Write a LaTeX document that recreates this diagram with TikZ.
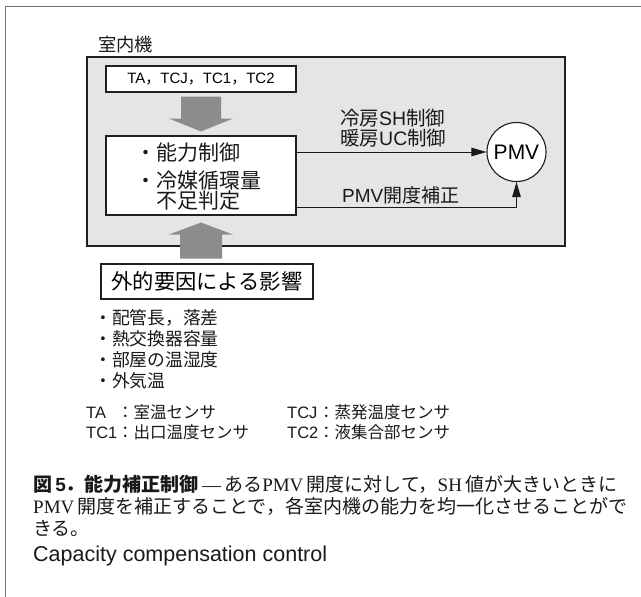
\documentclass[tikz,border=0pt]{standalone}
\usepackage{fontspec}
\setmainfont{Liberation Sans}
\newfontfamily\jp{Noto Sans CJK JP}
\newfontfamily\ser{Liberation Serif}
\usetikzlibrary{arrows.meta,calc}
\newcommand\J[1]{{\jp #1}}
\newcommand\fs[2]{\fontsize{#1pt}{#2pt}\selectfont}
\begin{document}
\begin{tikzpicture}[x=1pt,y=-1pt,
  frameline/.style={draw=black!55, line width=0.9pt},
  unitbox/.style={draw=black!88, fill=black!10, line width=1.4pt, inner sep=0pt},
  wbox/.style={draw=black!88, fill=white, line width=1.1pt, inner sep=0pt},
  fatarrow/.style={fill=black!45},
  conn/.style={draw=black!90, line width=1pt, -{Triangle[length=15pt,width=8.5pt]}},
  pmvnode/.style={circle, draw=black!90, fill=white, line width=1.1pt, minimum size=59pt, inner sep=0pt},
  txt/.style={inner sep=0pt, text=black!90}
]
\useasboundingbox (0,0) rectangle (641,597);
% outer frame (top and left only)
\coordinate (fl) at (5,597);
\coordinate (ftl) at (5,6);
\coordinate (ftr) at (641,6);
\draw[frameline] (fl) -- (ftl) -- (ftr);

\node[unitbox, minimum width=478pt, minimum height=189pt] (unit) at (326,151.5) {};
\node[txt, anchor=west, font=\fs{18.3}{21}] (unitlbl) at (98,45) {\J{室内機}};

\node[wbox, minimum width=190pt, minimum height=26pt, font=\fs{15}{18}] (sens) at (201,79) {TA\J{，}TCJ\J{，}TC1\J{，}TC2};
\node[wbox, minimum width=190pt, minimum height=79pt] (ctrl) at (201,175.5) {};
\node[txt, anchor=west, font=\fs{21}{23}] (c1) at (135,153) {\J{・能力制御}};
\node[txt, anchor=west, font=\fs{21}{23}] (c2) at (135,181) {\J{・冷媒循環量}};
\node[txt, anchor=west, font=\fs{21}{23}] (c3) at (156,201) {\J{不足判定}};

\node[pmvnode, font=\fs{21}{24}] (pmv) at (516.5,152) {PMV};
\node[wbox, minimum width=212pt, minimum height=35pt, font=\fs{21.3}{24}] (ext) at (207,281.5) {\J{外的要因による影響}};

% fat arrows
\fill[fatarrow] ($(sens.south)+(-20,4)$) -- ($(sens.south)+(20,4)$) -- ($(sens.south)+(20,26)$) -- ($(sens.south)+(32,26)$) -- ($(ctrl.north)+(0,-4)$) -- ($(sens.south)+(-32,26)$) -- ($(sens.south)+(-20,26)$) -- cycle;
\fill[fatarrow] ($(ctrl.south)+(-21,43)$) -- ($(ctrl.south)+(21,43)$) -- ($(ctrl.south)+(21,19)$) -- ($(ctrl.south)+(32,19)$) -- ($(ctrl.south)+(0,7)$) -- ($(ctrl.south)+(-32,19)$) -- ($(ctrl.south)+(-21,19)$) -- cycle;

% connectors
\draw[conn] (ctrl.east |- pmv.center) -- (pmv);
\draw[conn] ([yshift=-31.5pt]ctrl.east) -| (pmv);

\node[txt, anchor=west, align=left, font=\fs{19.5}{20}] (coolheat) at (340,128) {\J{冷房}SH\J{制御}\\\J{暖房}UC\J{制御}};
\node[txt, anchor=west, font=\fs{19}{21}] (pmvcorr) at (342,195) {PMV\J{開度補正}};

% factors
\node[txt, anchor=west, font=\fs{17.8}{21}] (f1) at (94,318) {\J{・配管長，落差}};
\node[txt, anchor=west, font=\fs{17.8}{21}] (f2) at (94,339) {\J{・熱交換器容量}};
\node[txt, anchor=west, font=\fs{17.8}{21}] (f3) at (94,360) {\J{・部屋の温湿度}};
\node[txt, anchor=west, font=\fs{17.8}{21}] (f4) at (94,381) {\J{・外気温}};

% legend
\node[txt, anchor=west, font=\fs{16.5}{20}] (l1) at (86,412) {\makebox[31pt][l]{TA}\J{：室温センサ}};
\node[txt, anchor=west, font=\fs{16.5}{20}] (l2) at (86,432) {\makebox[31pt][l]{TC1}\J{：出口温度センサ}};
\node[txt, anchor=west, font=\fs{16.5}{20}] (l3) at (287,412) {\makebox[31pt][l]{TCJ}\J{：蒸発温度センサ}};
\node[txt, anchor=west, font=\fs{16.5}{20}] (l4) at (287,432) {\makebox[31pt][l]{TC2}\J{：液集合部センサ}};

% caption
\node[txt, anchor=west, font=\fs{19}{23}] (cap1) at (33,484) {{\jp\bfseries 図}\,{\bfseries 5}{\jp\bfseries ．能力補正制御}\,{\ser —}\,\J{ある}{\ser PMV}\,\J{開度に対して，}{\ser SH}\,\J{値が大きいときに}};
\node[txt, anchor=west, font=\fs{19}{23}] (cap2) at (33,506) {{\ser PMV}\,\J{開度を補正することで，各室内機の能力を均一化させることがで}};
\node[txt, anchor=west, font=\fs{19}{23}] (cap3) at (33,528) {\J{きる。}};
\node[txt, anchor=west, font=\fs{21.5}{24}] (eng) at (33,556) {Capacity compensation control};
\end{tikzpicture}
\end{document}
